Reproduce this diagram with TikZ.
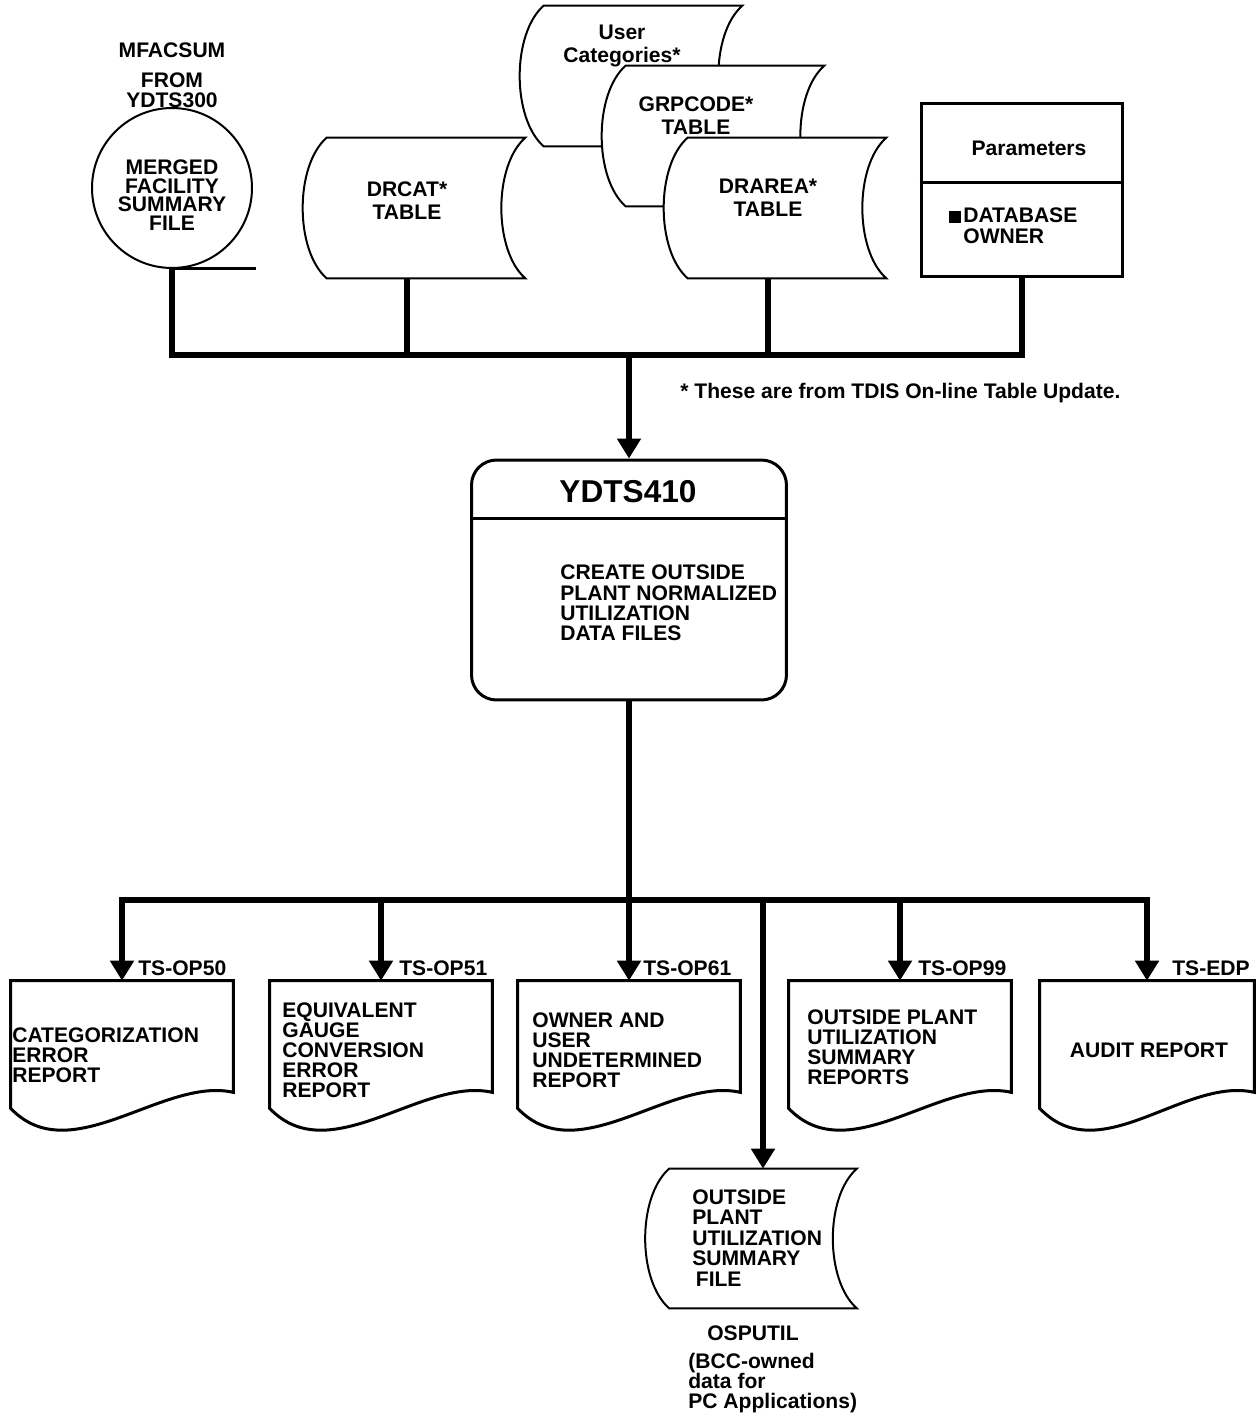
\documentclass[tikz,border=0pt]{standalone}
\usepackage{fontspec}
\setmainfont{Liberation Sans}
\usetikzlibrary{arrows.meta}

% outline of a stored-data box round the (empty) node #1
\newcommand{\storeoutline}[1]{%
  \draw[thinline, fill=white] (#1.north west) .. controls +(-32,28) and +(-32,-28) .. (#1.south west)
    -- (#1.south east) .. controls +(-32,-28) and +(-32,28) .. (#1.north east) -- cycle;}
% outline of a printed report round the (empty) node #1
\newcommand{\docoutline}[1]{%
  \draw[boxline, fill=white] (#1.north west) -- (#1.north east) -- (#1.south east)
    .. controls +(-70,-16) and +(60,63) .. ([yshift=-0.32cm]#1.south west) -- cycle;}

\begin{document}
\begin{tikzpicture}[x=0.02cm, y=-0.02cm,
  every node/.style={font=\bfseries\fontsize{12}{11.4}\selectfont, inner sep=0pt},
  thinline/.style={line width=0.04cm},
  boxline/.style={line width=0.06cm},
  bus/.style={line width=0.12cm},
  busarrow/.style={bus, -{Triangle[length=0.4cm, width=0.46cm]}},
  store/.style={minimum width=3.96cm, minimum height=2.8cm},
  report/.style={minimum width=4.44cm, minimum height=2.22cm},
  tabletext/.style={align=center, font=\bfseries\fontsize{12}{13}\selectfont},
  lefttext/.style={align=left, anchor=west},
  midtext/.style={align=center}]
\useasboundingbox (0,0) rectangle (1257,1417);

% tape input
\node[midtext] (mfacsum) at (172,50) {MFACSUM};
\node[midtext] (from) at (172,90) {FROM\\YDTS300};
\node[draw, thinline, circle, minimum size=3.2cm] (mfs) at (172,188) {};
\node[midtext, font=\bfseries\fontsize{12}{10.6}\selectfont] (mfs-t) at (172,195) {MERGED\\FACILITY\\SUMMARY\\FILE};
\draw[boxline] (mfs.south) -- ++(84,0);

% tables
\node[store] (uc) at (643,76) {};
\storeoutline{uc}
\node[tabletext] (uc-t) at (622,46) {User\\Categories*};
\node[store] (grp) at (725,136) {};
\storeoutline{grp}
\node[tabletext] (grp-t) at (696,116) {GRPCODE*\\TABLE};
\node[store] (drarea) at (787,208) {};
\storeoutline{drarea}
\node[tabletext] (drarea-t) at (768,198) {DRAREA*\\TABLE};
\node[store] (drcat) at (426,208) {};
\storeoutline{drcat}
\node[tabletext] (drcat-t) at (407,201) {DRCAT*\\TABLE};

% parameters
\node[draw, boxline, minimum width=4.04cm, minimum height=3.48cm] (params) at (1022,190) {};
\draw[boxline] ([yshift=-1.62cm]params.north west) -- ([yshift=-1.62cm]params.north east);
\node[midtext] (params-t) at (1029,148) {Parameters};
\node[lefttext, font=\bfseries\fontsize{12}{11.8}\selectfont] (owner) at (963,226)
  {\llap{\rule{6.5pt}{6.5pt}\hspace{1.5pt}}DATABASE\\OWNER};

\node[anchor=west] (note) at (680,393) {* These are from TDIS On-line Table Update.};

% input bus
\coordinate (topbus) at (0,355);
\draw[bus] (mfs.south) -- (mfs.south |- topbus) -- (params.south |- topbus) -- (params.south);
\draw[bus] (drcat.south -| drcat-t) -- (drcat-t |- topbus);
\draw[bus] (drarea.south -| drarea-t) -- (drarea-t |- topbus);

% program
\node[draw, boxline, rounded corners=0.5cm, minimum width=6.3cm, minimum height=4.8cm] (ydts) at (629,580) {};
\draw[boxline] ([yshift=-1.2cm]ydts.north west) -- ([yshift=-1.2cm]ydts.north east);
\node[font=\bfseries\fontsize{18}{20}\selectfont] (ydts-t) at (628,492) {YDTS410};
\node[lefttext, font=\bfseries\fontsize{12}{11.6}\selectfont] (ydts-b) at (560,603)
  {CREATE OUTSIDE\\PLANT NORMALIZED\\UTILIZATION\\DATA FILES};
\draw[busarrow] (ydts.north |- topbus) -- (ydts.north);

% reports
\node[report] (rep1) at (122,1036.5) {};
\docoutline{rep1}
\node[report] (rep2) at (381,1036.5) {};
\docoutline{rep2}
\node[report] (rep3) at (629,1036.5) {};
\docoutline{rep3}
\node[report] (rep4) at (900,1036.5) {};
\docoutline{rep4}
\node[report, minimum width=4.28cm] (rep5) at (1147,1036.5) {};
\docoutline{rep5}

\node[lefttext] (rep1-t) at (12,1055) {CATEGORIZATION\\ERROR\\REPORT};
\node[lefttext] (rep2-t) at (282,1050) {EQUIVALENT\\GAUGE\\CONVERSION\\ERROR\\REPORT};
\node[lefttext] (rep3-t) at (532,1050) {OWNER AND\\USER\\UNDETERMINED\\REPORT};
\node[lefttext] (rep4-t) at (807,1047) {OUTSIDE PLANT\\UTILIZATION\\SUMMARY\\REPORTS};
\node (rep5-t) at (1149,1050) {AUDIT REPORT};

\node[anchor=base west] (op50) at ([xshift=0.32cm, yshift=0.1cm]rep1.north) {TS-OP50};
\node[anchor=base west] (op51) at ([xshift=0.36cm, yshift=0.1cm]rep2.north) {TS-OP51};
\node[anchor=base west] (op61) at ([xshift=0.28cm, yshift=0.1cm]rep3.north) {TS-OP61};
\node[anchor=base west] (op99) at ([xshift=0.36cm, yshift=0.1cm]rep4.north) {TS-OP99};
\node[anchor=base west] (edp) at ([xshift=0.5cm, yshift=0.1cm]rep5.north) {TS-EDP};

% output file
\node[minimum width=3.74cm, minimum height=2.78cm] (osp) at (763,1238.5) {};
\storeoutline{osp}
\node[lefttext, font=\bfseries\fontsize{12}{11.6}\selectfont] (osp-t) at (692,1238)
  {OUTSIDE\\PLANT\\UTILIZATION\\SUMMARY\\\hspace{2pt}FILE};
\node (osputil) at (753,1333) {OSPUTIL};
\node[lefttext] (bcc) at (688,1383) {(BCC-owned\\data for\\PC Applications)};

% output bus
\coordinate (botbus) at (0,900);
\draw[bus] (ydts.south) -- (ydts.south |- botbus);
\draw[busarrow] (ydts.south |- botbus) -- (rep1.north |- botbus) -- (rep1.north);
\draw[busarrow] (ydts.south |- botbus) -- (rep5.north |- botbus) -- (rep5.north);
\draw[busarrow] (rep2.north |- botbus) -- (rep2.north);
\draw[busarrow] (rep3.north |- botbus) -- (rep3.north);
\draw[busarrow] (rep4.north |- botbus) -- (rep4.north);
\draw[busarrow] (osp.north |- botbus) -- (osp.north);

\end{tikzpicture}
\end{document}
